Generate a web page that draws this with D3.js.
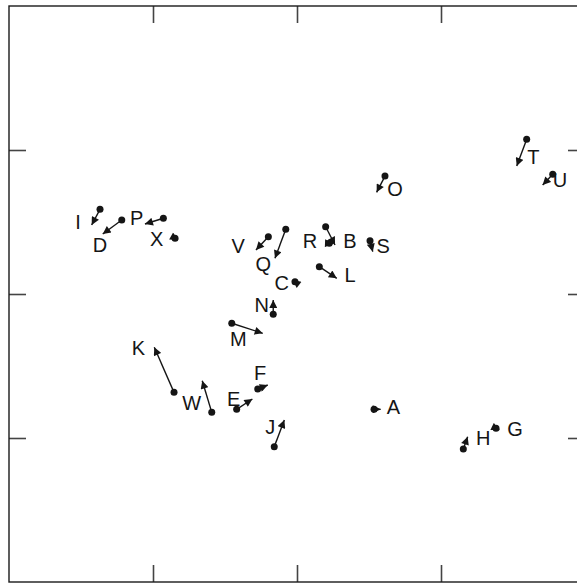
<!DOCTYPE html>
<html>
<head>
<meta charset="utf-8">
<script src="https://d3js.org/d3.v7.min.js"></script>
<style>
  body { margin: 0; background: #fff; }
  svg { display: block; }
</style>
</head>
<body>
<svg></svg>
<script>
const width = 577;
const height = 584;

// data: start (dot) and end (arrow tip) of each shift, plus label spot
const names  = ["A","B","C","D","E","F","G","H","I","J","K","L","M","N","O","P","Q","R","S","T","U","V","W","X"];
const startX = [0.535, 0.224, -0.014, -1.217, -0.419, -0.273, 1.382, 1.155, -1.368, -0.158, -0.854, 0.155, -0.453, -0.165, 0.611, -0.928, -0.078, 0.199, 0.507, 1.595, 1.776, -0.199, -0.592, -0.847];
const startY = [-0.801, 0.352, 0.085, 0.514, -0.801, -0.660, -0.933, -1.076, 0.588, -1.060, -0.683, 0.190, -0.203, -0.141, 0.819, 0.526, 0.449, 0.467, 0.370, 1.074, 0.831, 0.398, -0.822, 0.387];
const endX   = [0.581, 0.250, -0.030, -1.349, -0.310, -0.203, 1.405, 1.185, -1.426, -0.088, -0.991, 0.276, -0.238, -0.165, 0.553, -1.056, -0.153, 0.264, 0.526, 1.526, 1.706, -0.285, -0.658, -0.826];
const endY   = [-0.801, 0.351, 0.097, 0.417, -0.729, -0.632, -0.944, -0.991, 0.479, -0.875, -0.370, 0.109, -0.273, -0.042, 0.706, 0.486, 0.248, 0.340, 0.294, 0.889, 0.757, 0.306, -0.602, 0.375];
const labelX = [0.669, 0.368, -0.106, -1.368, -0.440, -0.257, 1.514, 1.294, -1.521, -0.185, -1.102, 0.368, -0.408, -0.245, 0.681, -1.113, -0.234, 0.090, 0.599, 1.641, 1.826, -0.408, -0.731, -0.974];
const labelY = [-0.783, 0.368, 0.076, 0.340, -0.729, -0.549, -0.9375, -1.002, 0.500, -0.924, -0.375, 0.132, -0.3125, -0.076, 0.729, 0.528, 0.208, 0.368, 0.333, 0.953, 0.792, 0.333, -0.757, 0.382];
const tickValues = [-1, 0, 1];

const items = names.map((n, i) => ({
  name: n, x0: startX[i], y0: startY[i], x1: endX[i], y1: endY[i], lx: labelX[i], ly: labelY[i]
}));

const margin = {left: 9, top: 6};
const side = 576;

const x = d3.scaleLinear().domain([-2, 2]).range([margin.left, margin.left + side]);
const y = d3.scaleLinear().domain([-2, 2]).range([margin.top + side, margin.top]);

const svg = d3.select("svg")
    .attr("width", width)
    .attr("height", height);

const ink = "#151515";

svg.append("defs").append("marker")
    .attr("id", "head")
    .attr("viewBox", "0 0 10 10")
    .attr("refX", 10)
    .attr("refY", 5)
    .attr("markerUnits", "userSpaceOnUse")
    .attr("markerWidth", 10)
    .attr("markerHeight", 8)
    .attr("orient", "auto")
    .append("path")
    .attr("d", "M0,0L10,5L0,10Z")
    .attr("fill", ink);

// axes with inward ticks, no labels
const tickLen = 17;
svg.append("g")
    .attr("transform", `translate(0,${margin.top})`)
    .call(d3.axisBottom(x).tickValues(tickValues).tickSize(tickLen).tickFormat(""))
    .call(g => g.select(".domain").remove());
svg.append("g")
    .attr("transform", `translate(0,${margin.top + side})`)
    .call(d3.axisTop(x).tickValues(tickValues).tickSize(tickLen).tickFormat(""))
    .call(g => g.select(".domain").remove());
svg.append("g")
    .attr("transform", `translate(${margin.left},0)`)
    .call(d3.axisRight(y).tickValues(tickValues).tickSize(tickLen).tickFormat(""))
    .call(g => g.select(".domain").remove());
svg.append("g")
    .attr("transform", `translate(${margin.left + side},0)`)
    .call(d3.axisLeft(y).tickValues(tickValues).tickSize(tickLen).tickFormat(""))
    .call(g => g.select(".domain").remove());
svg.selectAll(".tick line").attr("stroke", "#444").attr("stroke-width", 1.6);

// frame
svg.append("rect")
    .attr("x", margin.left)
    .attr("y", margin.top)
    .attr("width", side)
    .attr("height", side)
    .attr("fill", "none")
    .attr("stroke", "#1a1a1a")
    .attr("stroke-width", 1.4);

// arrows
svg.append("g")
    .selectAll("line")
    .data(items)
    .join("line")
    .attr("x1", d => x(d.x0))
    .attr("y1", d => y(d.y0))
    .attr("x2", d => x(d.x1))
    .attr("y2", d => y(d.y1))
    .attr("stroke", ink)
    .attr("stroke-width", 1.4)
    .attr("marker-end", "url(#head)");

// start dots
svg.append("g")
    .selectAll("circle")
    .data(items)
    .join("circle")
    .attr("cx", d => x(d.x0))
    .attr("cy", d => y(d.y0))
    .attr("r", 3.5)
    .attr("fill", ink);

// labels
svg.append("g")
    .selectAll("text")
    .data(items)
    .join("text")
    .attr("x", d => x(d.lx))
    .attr("y", d => y(d.ly))
    .attr("dy", "0.36em")
    .attr("text-anchor", "middle")
    .attr("font-family", "'Liberation Sans', Arial, sans-serif")
    .attr("font-size", 20)
    .attr("fill", ink)
    .text(d => d.name);
</script>
</body>
</html>
